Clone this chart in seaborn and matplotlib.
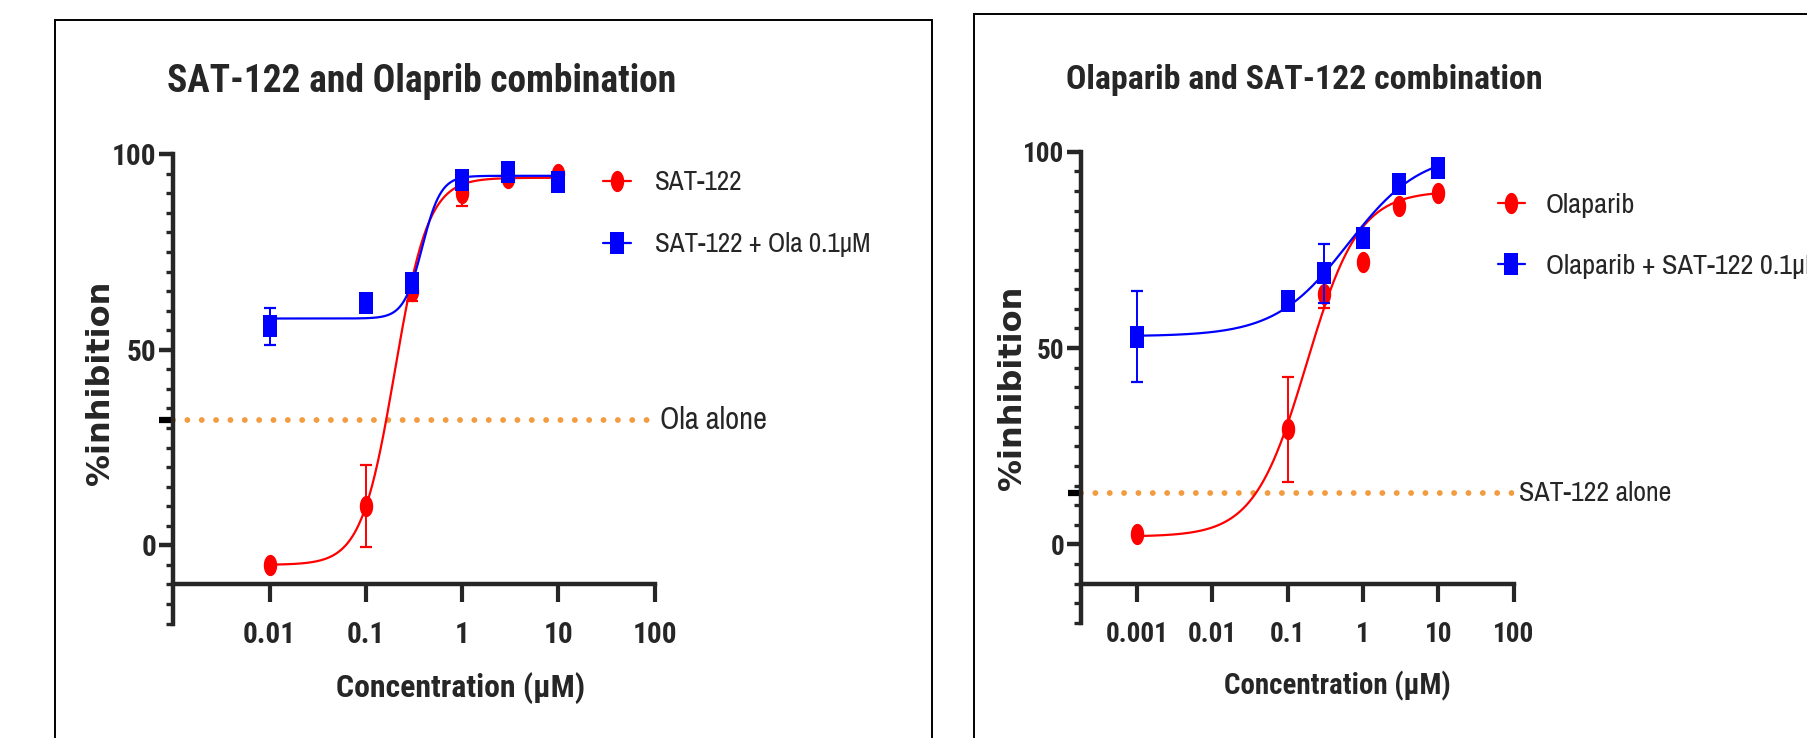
import matplotlib
matplotlib.use("Agg")
import matplotlib.pyplot as plt
import matplotlib.transforms as mtransforms
from matplotlib import font_manager
from matplotlib.lines import Line2D
from matplotlib.patches import Rectangle
from matplotlib.path import Path
from matplotlib.ticker import FixedLocator, FixedFormatter, MultipleLocator, NullLocator
import numpy as np
import seaborn as sns

# ---- left panel: SAT-122 dose response, alone and with olaparib 0.1 uM
left_conc = [0.01, 0.1, 0.3, 1, 3, 10]
left_sat = [-5.0, 10.0, 65.0, 90.0, 94.0, 95.0]
left_sat_err = [0.0, 10.5, 2.4, 3.3, 0.0, 0.0]
left_combo = [56.0, 62.0, 67.0, 93.5, 95.5, 93.0]
left_combo_err = [4.7, 0.0, 0.0, 0.0, 0.0, 0.0]
left_alone = 32.0
# fitted 4PL curves: bottom, top, logEC50, hill
left_sat_fit = [-5.0, 94.0, -0.70, 2.5]
left_combo_fit = [58.0, 94.5, -0.415, 4.5]
left_xticks = [0.01, 0.1, 1, 10, 100]
left_xticklabels = ["0.01", "0.1", "1", "10", "100"]

# ---- right panel: olaparib dose response, alone and with SAT-122 0.1 uM
right_conc = [0.001, 0.1, 0.3, 1, 3, 10]
right_ola = [2.6, 29.3, 63.7, 72.0, 86.2, 89.6]
right_ola_err = [0.0, 13.3, 3.6, 0.0, 0.0, 0.0]
right_combo = [52.9, 62.1, 69.0, 78.1, 91.7, 95.9]
right_combo_err = [11.6, 0.0, 7.6, 0.0, 0.0, 0.0]
right_alone = 13.0
right_ola_fit = [2.0, 90.0, -0.75, 1.25]
right_combo_fit = [53.0, 100.0, -0.2, 0.9]
right_xticks = [0.001, 0.01, 0.1, 1, 10, 100]
right_xticklabels = ["0.001", "0.01", "0.1", "1", "10", "100"]

yticks = [0, 50, 100]

RED = "#FF0000"
BLUE = "#0000FF"
ORANGE = "#F29B3F"

sns.set_style("ticks")
names = {f.name for f in font_manager.fontManager.ttflist}
NARROW = "Liberation Sans"
for cand in ["Liberation Sans Narrow", "Arial Narrow", "Roboto Condensed"]:
    if cand in names:
        NARROW = cand
        break
REG = "Archivo Narrow" if "Archivo Narrow" in names else NARROW
plt.rcParams["font.family"] = [NARROW, "DejaVu Sans"]
GROW = 1.03  # the original text is squeezed, so trade a bit of width for height

# markers look squeezed horizontally in the original
t = np.linspace(0, 2 * np.pi, 64)
ellipse = Path(np.column_stack([0.63 * np.cos(t), np.sin(t)]))
rect = Path([(-0.63, -1), (0.63, -1), (0.63, 1), (-0.63, 1), (-0.63, -1)], closed=True)

fig = plt.figure(figsize=(18.08, 7.38), dpi=100)
W, H = 1808.0, 738.0
renderer = fig.canvas.get_renderer()


def fit_width(txt, target_px):
    w = txt.get_window_extent(renderer).width
    txt.set_fontsize(txt.get_fontsize() * target_px / w)
    return txt.get_fontsize()


def size_for(s, target_px, **kw):
    probe = fig.text(0, 0, s, fontsize=20, **kw)
    fs = fit_width(probe, target_px)
    probe.remove()
    return fs


def fourpl(x, p):
    bottom, top, logec50, hill = p
    return bottom + (top - bottom) / (1 + 10 ** ((logec50 - np.log10(x)) * hill))


def draw_series(ax, conc, vals, err, fit, color, marker, z):
    xs = np.logspace(np.log10(conc[0]), np.log10(conc[-1]), 300)
    sns.lineplot(x=xs, y=fourpl(xs, fit), color=color, lw=1.6, ax=ax, zorder=z)
    ax.errorbar(conc, vals, yerr=err, fmt="none", ecolor=color, elinewidth=1.4,
                capsize=4.5, capthick=1.6, zorder=z + 0.5)
    sns.scatterplot(x=conc, y=vals, marker=marker, s=235, color=color,
                    linewidth=0, ax=ax, zorder=z + 1)


def style_axes(ax, xlim, xticks, xticklabels, tick_fs, alone, alone_label, alone_w,
               xlab_w, xlab_pos, ylab_pos):
    ax.set_xscale("log")
    ax.set_xlim(*xlim)
    ax.set_ylim(-20, 100)
    ax.spines["top"].set_visible(False)
    ax.spines["right"].set_visible(False)
    ax.spines["bottom"].set_position(("data", -10))
    for s in ("left", "bottom"):
        ax.spines[s].set_linewidth(3.2)
    ax.xaxis.set_major_locator(FixedLocator(xticks))
    ax.xaxis.set_major_formatter(FixedFormatter(xticklabels))
    ax.xaxis.set_minor_locator(NullLocator())
    ax.yaxis.set_major_locator(FixedLocator(yticks))
    ax.yaxis.set_minor_locator(MultipleLocator(5))
    ax.tick_params(axis="x", which="major", length=13, width=3.0, pad=13.5,
                   labelsize=tick_fs)
    ax.tick_params(axis="y", which="major", length=10, width=3.2, pad=2,
                   labelsize=tick_fs)
    ax.tick_params(axis="y", which="minor", length=5, width=2.4)
    for lab in ax.get_xticklabels() + ax.get_yticklabels():
        lab.set_fontweight("bold")

    ax.axhline(alone, color=ORANGE, lw=4.2, linestyle=(0, (0.01, 2.45)),
               dash_capstyle="round", zorder=1)
    blend = mtransforms.blended_transform_factory(ax.transAxes, ax.transData)
    ax.plot([-0.03, 0], [alone, alone], transform=blend, color="black", lw=4.5,
            solid_capstyle="butt", clip_on=False)
    ann = ax.annotate(alone_label, xy=(1, alone), xycoords=blend, xytext=(4, 0),
                      textcoords="offset points", va="center", fontsize=22,
                      family=REG)
    fit_width(ann, alone_w)

    ax.set_xlabel("Concentration (µM)", fontsize=23.5, fontweight="bold", va="center")
    fit_width(ax.xaxis.label, xlab_w)
    ax.xaxis.set_label_coords(*xlab_pos)
    ax.set_ylabel("%inhibition", fontsize=23, fontweight="bold", va="center",
                  family="DejaVu Sans")
    ylab = ax.yaxis.label
    ylab.set_fontsize(ylab.get_fontsize() * 205 / ylab.get_window_extent(renderer).height)
    ax.yaxis.set_label_coords(*ylab_pos)


# panel frames (they run off the bottom / right edge in the original)
fig.add_artist(Rectangle((55 / W, -0.1), (932 - 55) / W, 1.1 - 20 / H,
                         transform=fig.transFigure, fill=False, ec="black", lw=1.4))
fig.add_artist(Rectangle((974 / W, -0.1), 0.6, 1.1 - 14 / H,
                         transform=fig.transFigure, fill=False, ec="black", lw=1.4))

ax1 = fig.add_axes([173.3 / W, 1 - 623.5 / H, 481.5 / W, 469.2 / H])
draw_series(ax1, left_conc, left_sat, left_sat_err, left_sat_fit, RED, ellipse, 2)
draw_series(ax1, left_conc, left_combo, left_combo_err, left_combo_fit, BLUE, rect, 4)
style_axes(ax1, (0.001, 100), left_xticks, left_xticklabels,
           size_for("100", 43 * GROW, fontweight="bold"), left_alone, "Ola alone", 107,
           241 * GROW, (0.5975, -0.1375), (-0.152, 0.5126))

ax2 = fig.add_axes([1080.7 / W, 1 - 623.0 / H, 432.9 / W, 471.3 / H])
draw_series(ax2, right_conc, right_ola, right_ola_err, right_ola_fit, RED, ellipse, 2)
draw_series(ax2, right_conc, right_combo, right_combo_err, right_combo_fit, BLUE, rect, 4)
style_axes(ax2, (10 ** -3.75, 100), right_xticks, right_xticklabels,
           size_for("100", 40 * GROW, fontweight="bold"), right_alone, "SAT-122 alone", 153,
           219 * GROW, (0.592, -0.1337), (-0.158, 0.50))

t1 = fig.text(167 / W, 1 - 92 / H, "SAT-122 and Olaprib combination", fontsize=27,
              fontweight="bold", va="baseline")
fit_width(t1, 495 * GROW)
t2 = fig.text(1066 / W, 1 - 89.5 / H, "Olaparib and SAT-122 combination", fontsize=27,
              fontweight="bold", va="baseline")
fit_width(t2, 462 * GROW)


def handle(color, marker):
    return Line2D([], [], color=color, lw=1.6, marker=marker, markersize=15.3,
                  markeredgewidth=0)


ax1.legend([handle(RED, ellipse), handle(BLUE, rect)],
           ["SAT-122", "SAT-122 + Ola 0.1µM"],
           loc="upper left", bbox_to_anchor=(603 / W, 1 - 170 / H),
           bbox_transform=fig.transFigure, frameon=False,
           prop={"family": REG,
                 "size": size_for("SAT-122 + Ola 0.1µM", 216, family=REG)},
           borderpad=0, borderaxespad=0, handlelength=1.05, handletextpad=0.85,
           labelspacing=1.38)
ax2.legend([handle(RED, ellipse), handle(BLUE, rect)],
           ["Olaparib", "Olaparib + SAT-122 0.1µM"],
           loc="upper left", bbox_to_anchor=(1498 / W, 1 - 193 / H),
           bbox_transform=fig.transFigure, frameon=False,
           prop={"family": REG, "size": size_for("Olaparib", 89, family=REG)},
           borderpad=0, borderaxespad=0, handlelength=0.95, handletextpad=0.75,
           labelspacing=1.28)

fig.savefig("out.png", dpi=100)
